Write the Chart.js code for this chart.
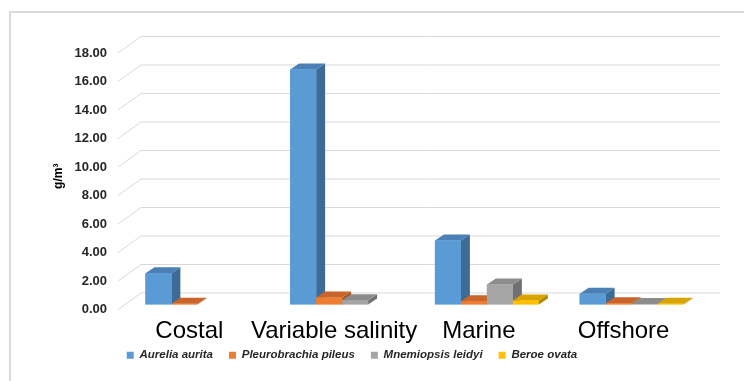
<!DOCTYPE html>
<html>
<head>
<meta charset="utf-8">
<script src="https://cdn.jsdelivr.net/npm/chart.js@4"></script>
<style>
  html, body { margin: 0; padding: 0; background: #fff; }
  #wrap { width: 744px; height: 381px; position: relative; }
</style>
</head>
<body>
<div id="wrap"><canvas id="chart" width="744" height="381"></canvas></div>
<script>
// Data
const zones = ["Costal", "Variable salinity", "Marine", "Offshore"];
const aurelia = [2.2, 16.5, 4.5, 0.75];
const pleurobrachia = [0.05, 0.5, 0.23, 0.08];
const mnemiopsis = [null, 0.3, 1.4, 0.04];
const beroe = [null, null, 0.28, 0.06];
const yTicks = [0, 2, 4, 6, 8, 10, 12, 14, 16, 18];

const frontColors = ["#5B9BD5", "#ED7D31", "#A5A5A5", "#FFC000"];
const topColors = ["#4A80B5", "#C9652A", "#8C8C8C", "#D9A300"];
const sideColors = ["#3E6B96", "#A8541F", "#707070", "#B38700"];

// depth of the bars and of the back wall
const BAR_DX = 9, BAR_DY = -6;
const WALL_DX = 23, WALL_DY = -16.5;
const FRONT_SHIFT = 5; // front edge of floor sits below bar plane

const threeD = {
  id: "threeD",
  beforeDraw(chart) {
    const ctx = chart.ctx;
    ctx.save();
    ctx.strokeStyle = "#d9d9d9";
    ctx.lineWidth = 2;
    ctx.beginPath();
    ctx.moveTo(10, 381);
    ctx.lineTo(10, 12);
    ctx.lineTo(744, 12);
    ctx.stroke();
    ctx.restore();
  },
  beforeDatasetsDraw(chart) {
    const ctx = chart.ctx;
    const area = chart.chartArea;
    const y = chart.scales.y;
    ctx.save();
    ctx.strokeStyle = "#d9d9d9";
    ctx.lineWidth = 1;
    y.ticks.forEach(t => {
      const py = y.getPixelForValue(t.value) + FRONT_SHIFT;
      const fx = area.left - 7;
      ctx.beginPath();
      ctx.moveTo(fx, py);
      ctx.lineTo(fx + WALL_DX, py + WALL_DY);
      ctx.lineTo(area.right + 16, py + WALL_DY);
      ctx.stroke();
    });
    ctx.restore();
  },
  afterDatasetsDraw(chart) {
    const ctx = chart.ctx;
    ctx.save();
    chart.data.labels.forEach((lab, i) => {
      chart.data.datasets.forEach((ds, d) => {
        if (ds.data[i] == null) return;
        const bar = chart.getDatasetMeta(d).data[i];
        const p = bar.getProps(["x", "y", "base", "width"], true);
        const l = p.x - p.width / 2, r = p.x + p.width / 2;
        // right side
        ctx.fillStyle = sideColors[d];
        ctx.beginPath();
        ctx.moveTo(r, p.y);
        ctx.lineTo(r + BAR_DX, p.y + BAR_DY);
        ctx.lineTo(r + BAR_DX, p.base + BAR_DY);
        ctx.lineTo(r, p.base);
        ctx.closePath();
        ctx.fill();
        // top
        ctx.fillStyle = topColors[d];
        ctx.beginPath();
        ctx.moveTo(l, p.y);
        ctx.lineTo(l + BAR_DX, p.y + BAR_DY);
        ctx.lineTo(r + BAR_DX, p.y + BAR_DY);
        ctx.lineTo(r, p.y);
        ctx.closePath();
        ctx.fill();
        // front
        ctx.fillStyle = frontColors[d];
        ctx.fillRect(l, p.y, p.width, p.base - p.y);
      });
    });
    ctx.restore();
  }
};

new Chart(document.getElementById("chart").getContext("2d"), {
  type: "bar",
  data: {
    labels: zones,
    datasets: [
      { label: "Aurelia aurita", data: aurelia, backgroundColor: frontColors[0] },
      { label: "Pleurobrachia pileus", data: pleurobrachia, backgroundColor: frontColors[1] },
      { label: "Mnemiopsis leidyi", data: mnemiopsis, backgroundColor: frontColors[2] },
      { label: "Beroe ovata", data: beroe, backgroundColor: frontColors[3] }
    ]
  },
  options: {
    responsive: false,
    animation: false,
    events: [],
    categoryPercentage: 0.718,
    barPercentage: 1.0,
    layout: { padding: { left: 0, right: 40, top: 48, bottom: 10 } },
    plugins: {
      tooltip: { enabled: false },
      legend: {
        position: "bottom",
        labels: {
          boxWidth: 7,
          boxHeight: 7,
          padding: 16,
          color: "#262626",
          font: { family: "Liberation Sans", size: 11.5, style: "italic", weight: "bold" }
        }
      }
    },
    scales: {
      x: {
        grid: { display: false },
        border: { display: false },
        ticks: {
          color: "#000",
          padding: 4,
          labelOffset: -8,
          autoSkip: false,
          maxRotation: 0,
          minRotation: 0,
          font: { family: "Liberation Sans", size: 24 }
        },
        afterFit(s) {
          s.height = 29;
          // let the big category labels run past the short scale box
          s._computeLabelArea = () => undefined;
        }
      },
      y: {
        min: 0,
        max: 18,
        grid: { display: false },
        border: { display: false },
        afterBuildTicks(s) { s.ticks = yTicks.map(v => ({ value: v })); },
        afterFit(s) { s.width = 125; },
        ticks: {
          padding: 10,
          labelOffset: FRONT_SHIFT,
          color: "#262626",
          font: { family: "Liberation Sans", size: 13, weight: "bold" },
          callback: v => Number(v).toFixed(2)
        },
        title: {
          display: true,
          text: "g/m³",
          color: "#000",
          padding: { top: 51, bottom: 0 },
          font: { family: "Liberation Sans", size: 12, weight: "bold" }
        }
      }
    }
  },
  plugins: [threeD]
});
</script>
</body>
</html>
